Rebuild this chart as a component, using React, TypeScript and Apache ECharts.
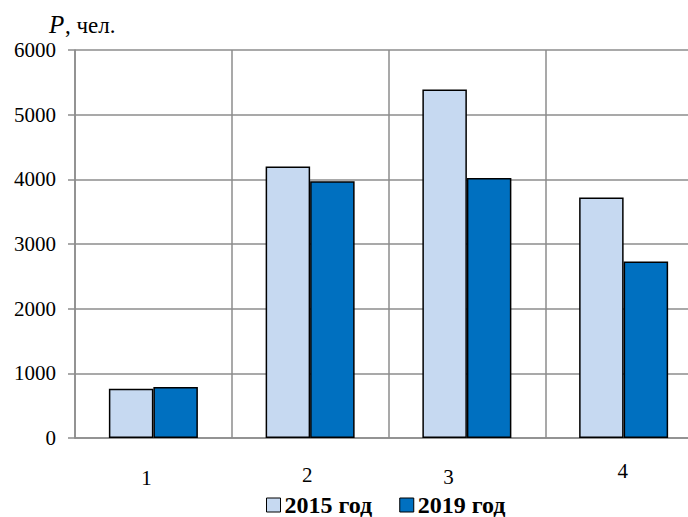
import React, { useEffect, useRef } from "react";
import * as echarts from "echarts";

const categories = ["1", "2", "3", "4"];
const series2015 = [760, 4200, 5390, 3720];
const series2019 = [790, 3970, 4020, 2730];
const seriesNames = ["2015 год", "2019 год"];

const FONT = "Times New Roman, Liberation Serif, serif";
const GRID = "#8c8c8c";

export default function App() {
  const ref = useRef<HTMLDivElement>(null);
  useEffect(() => {
    if (!ref.current) return;
    const chart = echarts.init(ref.current, undefined, { renderer: "svg" });
    chart.setOption({
      animation: false,
      backgroundColor: "#ffffff",
      textStyle: { fontFamily: FONT },
      grid: { left: 75, top: 50, width: 627, height: 388, containLabel: false },
      graphic: [
        {
          type: "text",
          left: 49,
          top: 12,
          style: {
            text: "P",
            font: "italic 25px " + FONT,
            fill: "#000",
          },
        },
        {
          type: "text",
          left: 65,
          top: 14,
          style: {
            text: ", чел.",
            font: "23px " + FONT,
            fill: "#000",
          },
        },
      ],
      legend: {
        left: 261,
        top: 488,
        itemWidth: 14,
        itemHeight: 14,
        itemGap: 27,
        icon: "rect",
        data: seriesNames,
        itemStyle: { borderColor: "#000", borderWidth: 1 },
        textStyle: {
          fontFamily: FONT,
          fontSize: 24,
          fontWeight: "bold",
          color: "#000",
          padding: [0, 0, 0, -1],
        },
      },
      xAxis: {
        type: "category",
        data: categories,
        boundaryGap: true,
        axisLine: { show: true, lineStyle: { color: GRID, width: 1.5 } },
        axisTick: { show: false },
        splitLine: { show: true, lineStyle: { color: GRID, width: 1.5 } },
        axisLabel: {
          fontFamily: FONT,
          fontSize: 21,
          color: "#000",
          margin: 22,
          formatter: (v: string) => `{c${v}|${v}}`,
          rich: {
            c1: { fontFamily: FONT, fontSize: 21, color: "#000", padding: [7, 14, 0, 0] },
            c2: { fontFamily: FONT, fontSize: 21, color: "#000", padding: [4, 6, 0, 0] },
            c3: { fontFamily: FONT, fontSize: 21, color: "#000", padding: [6, 37, 0, 0] },
            c4: { fontFamily: FONT, fontSize: 21, color: "#000", padding: [0, 2, 0, 0] },
          },
        },
      },
      yAxis: {
        type: "value",
        min: 0,
        max: 6000,
        interval: 1000,
        axisLine: { show: true, lineStyle: { color: GRID, width: 1.5 } },
        axisTick: { show: true, length: 7, lineStyle: { color: GRID, width: 1.5 } },
        splitLine: { show: true, lineStyle: { color: GRID, width: 1.5 } },
        axisLabel: {
          fontFamily: FONT,
          fontSize: 21,
          color: "#000",
          margin: 19,
          formatter: (v: number) => String(v),
        },
      },
      series: [
        {
          name: seriesNames[0],
          type: "bar",
          data: series2015,
          barWidth: 44.5,
          barGap: "0%",
          itemStyle: { color: "#c6d9f1", borderColor: "#000", borderWidth: 1.5 },
        },
        {
          name: seriesNames[1],
          type: "bar",
          data: series2019,
          barWidth: 44.5,
          barGap: "0%",
          itemStyle: { color: "#0070c0", borderColor: "#000", borderWidth: 1.5 },
        },
      ],
    });
    return () => chart.dispose();
  }, []);
  return (
    <div style={{ position: "fixed", left: 0, top: 0, width: 688, height: 517, overflow: "hidden", background: "#fff" }}>
      <div ref={ref} style={{ position: "absolute", left: 0, top: 0, width: 710, height: 517 }} />
    </div>
  );
}
